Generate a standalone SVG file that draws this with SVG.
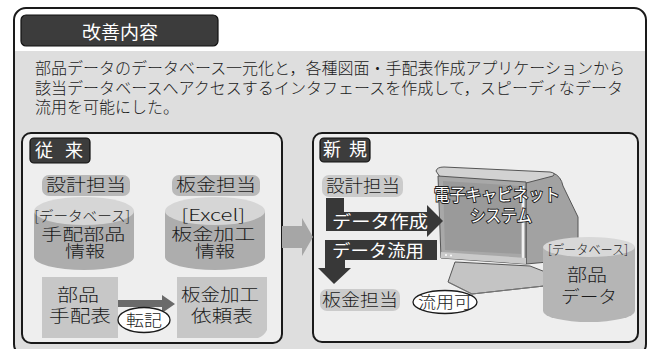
<svg xmlns="http://www.w3.org/2000/svg" width="656" height="349" viewBox="0 0 656 349">
  <style>
    text { font-family: "Noto Sans CJK JP", "Noto Sans", sans-serif; fill: #1a1a1a; font-weight: 300; }
    .c { text-anchor: middle; }
    .w { fill: #ffffff; font-weight: 400; }
    .desc { font-size: 16px; }
    .lbl { font-size: 17px; }
    .tab { fill: #3c3c3c; stroke: #111; stroke-width: 1.2; }
    .panel { fill: #eeeeee; stroke: #1a1a1a; stroke-width: 2; }
    .tag { fill: #b9b9b9; }
    .tagL { fill: #cbcbcb; }
    .cylTop { fill: #d6d6d6; }
    .cylBody { fill: #adadad; }
    .doc { fill: #c7c7c7; }
    .oval { fill: #ffffff; stroke: #1a1a1a; stroke-width: 1.3; }
    .dark { fill: #383838; }
  </style>

  <!-- outer frame and backgrounds -->
  <rect x="0" y="0" width="656" height="349" fill="#ffffff"/>
  <rect x="15" y="51" width="630" height="310" fill="#dedede"/>
  <rect x="14" y="8" width="632" height="348" rx="12" fill="none" stroke="#1a1a1a" stroke-width="2"/>

  <!-- heading -->
  <g id="heading">
    <rect class="tab" x="21" y="15" width="197" height="31" rx="5"/>
    <text class="w c" x="120" y="39" font-size="18" textLength="76" lengthAdjust="spacingAndGlyphs">改善内容</text>
  </g>

  <g id="description">
    <text class="desc">
      <tspan x="35" y="74" textLength="590" lengthAdjust="spacingAndGlyphs">部品データのデータベース一元化と，各種図面・手配表作成アプリケーションから</tspan>
      <tspan x="35" y="94" textLength="588" lengthAdjust="spacingAndGlyphs">該当データベースへアクセスするインタフェースを作成して，スピーディなデータ</tspan>
      <tspan x="35" y="113">流用を可能にした。</tspan>
    </text>
  </g>

  <!-- left panel: before -->
  <g id="panel-before">
    <rect class="panel" x="22" y="133" width="260" height="210" rx="9"/>
    <rect class="tab" x="30" y="138" width="60" height="25" rx="4"/>
    <text class="w c" x="59" y="157" font-size="18" xml:space="preserve" textLength="48" lengthAdjust="spacing">従 来</text>
  </g>

  <g id="design-db">
    <path class="cylBody" d="M34,211 L134,211 L134,257 A50,13 0 0 1 34,257 Z"/>
    <ellipse class="cylTop" cx="84" cy="211" rx="50" ry="14"/>
    <rect class="tag" x="42" y="175" width="88" height="21" rx="7"/>
    <text class="c lbl" x="86" y="191" textLength="80" lengthAdjust="spacingAndGlyphs">設計担当</text>
    <text class="c" font-size="16">
      <tspan x="84" y="221" font-size="14" textLength="96" lengthAdjust="spacingAndGlyphs">[データベース]</tspan>
      <tspan x="85" y="240" textLength="84" lengthAdjust="spacingAndGlyphs">手配部品</tspan>
      <tspan x="85" y="257" textLength="40" lengthAdjust="spacingAndGlyphs">情報</tspan>
    </text>
  </g>

  <g id="sheet-excel">
    <path class="cylBody" d="M165,211 L265,211 L265,257 A50,13 0 0 1 165,257 Z"/>
    <ellipse class="cylTop" cx="215" cy="211" rx="50" ry="14"/>
    <rect class="tag" x="172" y="175" width="88" height="21" rx="7"/>
    <text class="c lbl" x="216" y="191" textLength="80" lengthAdjust="spacingAndGlyphs">板金担当</text>
    <text class="c" font-size="16">
      <tspan x="215" y="221" textLength="64" lengthAdjust="spacingAndGlyphs">[Excel]</tspan>
      <tspan x="215" y="240" textLength="84" lengthAdjust="spacingAndGlyphs">板金加工</tspan>
      <tspan x="215" y="257" textLength="40" lengthAdjust="spacingAndGlyphs">情報</tspan>
    </text>
  </g>

  <g id="parts-list">
    <rect class="doc" x="42" y="277" width="76" height="61"/>
    <text class="c" font-size="17">
      <tspan x="80" y="301" textLength="42" lengthAdjust="spacingAndGlyphs">部品</tspan>
      <tspan x="80" y="322" textLength="62" lengthAdjust="spacingAndGlyphs">手配表</tspan>
    </text>
  </g>

  <g id="request-sheet">
    <path class="doc" d="M177,277 L267,277 L267,330 Q264,336 258,338 L177,338 Z"/>
    <text class="c" font-size="17">
      <tspan x="222" y="301" textLength="78" lengthAdjust="spacingAndGlyphs">板金加工</tspan>
      <tspan x="222" y="322" textLength="62" lengthAdjust="spacingAndGlyphs">依頼表</tspan>
    </text>
  </g>

  <!-- right panel: new -->
  <g id="panel-new">
    <rect class="panel" x="313" y="133" width="325" height="209" rx="9"/>
    <rect class="tab" x="320" y="138" width="50" height="24" rx="4"/>
    <text class="w c" x="345" y="156" font-size="18" xml:space="preserve" textLength="44" lengthAdjust="spacing">新 規</text>
  </g>

  <g id="design-staff">
    <rect class="tagL" x="322" y="175" width="81" height="22" rx="7"/>
    <text class="c lbl" x="363" y="192" textLength="74" lengthAdjust="spacingAndGlyphs">設計担当</text>
  </g>

  <g id="sheet-staff">
    <rect class="tagL" x="320" y="289" width="80" height="22" rx="7"/>
    <text class="c lbl" x="360" y="306" textLength="76" lengthAdjust="spacingAndGlyphs">板金担当</text>
  </g>

  <g id="cabinet-system">
    <!-- side / back of the casing -->
    <path d="M526,182 L553,173 Q561,176 563,186 L578,217 L578,250 L548,262 L526,264 Z" fill="#a2a2a2" stroke="#555" stroke-width="1"/>
    <!-- top of the casing -->
    <path d="M436,171 Q437,167 444,167 L550,172 Q556,173 553,176 L526,183 L440,177 Z" fill="#d2d2d2" stroke="#555" stroke-width="1"/>
    <!-- front face -->
    <path d="M438,176 L526,182 L526,264 L441,258 Z" fill="#a8a8a8" stroke="#555" stroke-width="1"/>
    <path d="M443,181 L521,186 L521,254 L445,250 Z" fill="#9a9a9a"/>
    <path d="M523,186 L523,262" stroke="#f2f2f2" stroke-width="2.5" fill="none"/>
    <path d="M441,252 L526,258 L526,264 L441,258 Z" fill="#cacaca"/>
    <circle cx="446" cy="255" r="1" fill="#fff"/>
    <circle cx="451" cy="255.5" r="1" fill="#fff"/>
    <!-- stand -->
    <path d="M455,262 L530,266 L548,273 L562,284 L472,294 L448,282 Z" fill="#c4c4c4" stroke="#555" stroke-width="1"/>
    <path d="M448,282 L472,294 L562,284" fill="none" stroke="#777" stroke-width="1"/>
    <text class="w c" font-size="17" stroke="#222" stroke-width="2" paint-order="stroke">
      <tspan x="499" y="201" textLength="126" lengthAdjust="spacingAndGlyphs">電子キャビネット</tspan>
      <tspan x="501" y="222" textLength="62" lengthAdjust="spacingAndGlyphs">システム</tspan>
    </text>
  </g>

  <g id="parts-db">
    <path d="M543,247 L635,247 L635,311 A46,11 0 0 1 543,311 Z" fill="#b5b5b5"/>
    <ellipse cx="589" cy="247" rx="46" ry="10" fill="#d8d8d8"/>
    <text class="c" font-size="17">
      <tspan x="590" y="254" font-size="13" textLength="80" lengthAdjust="spacingAndGlyphs">[データベース]</tspan>
      <tspan x="589" y="281" textLength="40" lengthAdjust="spacingAndGlyphs">部品</tspan>
      <tspan x="589" y="303" textLength="56" lengthAdjust="spacingAndGlyphs">データ</tspan>
    </text>
  </g>

  <!-- connectors -->
  <g id="connectors">
    <path d="M118,300 L162,300 L162,295 L175,304 L162,313 L162,307 L118,307 Z" fill="#6a6a6a"/>
    <path d="M282,226 L302,226 L302,218 L313,237 L302,256 L302,248 L282,248 Z" fill="#a6a6a6"/>
    <path class="dark" d="M326,198 L344,198 L344,212 L427,212 L427,205 L443,221 L427,237 L427,231 L326,231 Z"/>
    <path class="dark" d="M437,240 L437,260 L345,260 L345,268 L351,268 L334,284 L318,268 L325,268 L325,240 Z"/>
    <text class="w c" x="380" y="228" font-size="17" textLength="96" lengthAdjust="spacingAndGlyphs">データ作成</text>
    <text class="w c" x="378" y="257" font-size="17" textLength="92" lengthAdjust="spacingAndGlyphs">データ流用</text>
  </g>

  <g id="transcribe-note">
    <ellipse class="oval" cx="144" cy="320" rx="26" ry="12.5"/>
    <text class="c" x="144" y="326" font-size="16" textLength="36" lengthAdjust="spacingAndGlyphs">転記</text>
  </g>

  <g id="reuse-note">
    <ellipse class="oval" cx="445" cy="302" rx="32" ry="11.5"/>
    <text class="c" x="445" y="308" font-size="16" textLength="54" lengthAdjust="spacingAndGlyphs">流用可</text>
  </g>
</svg>
